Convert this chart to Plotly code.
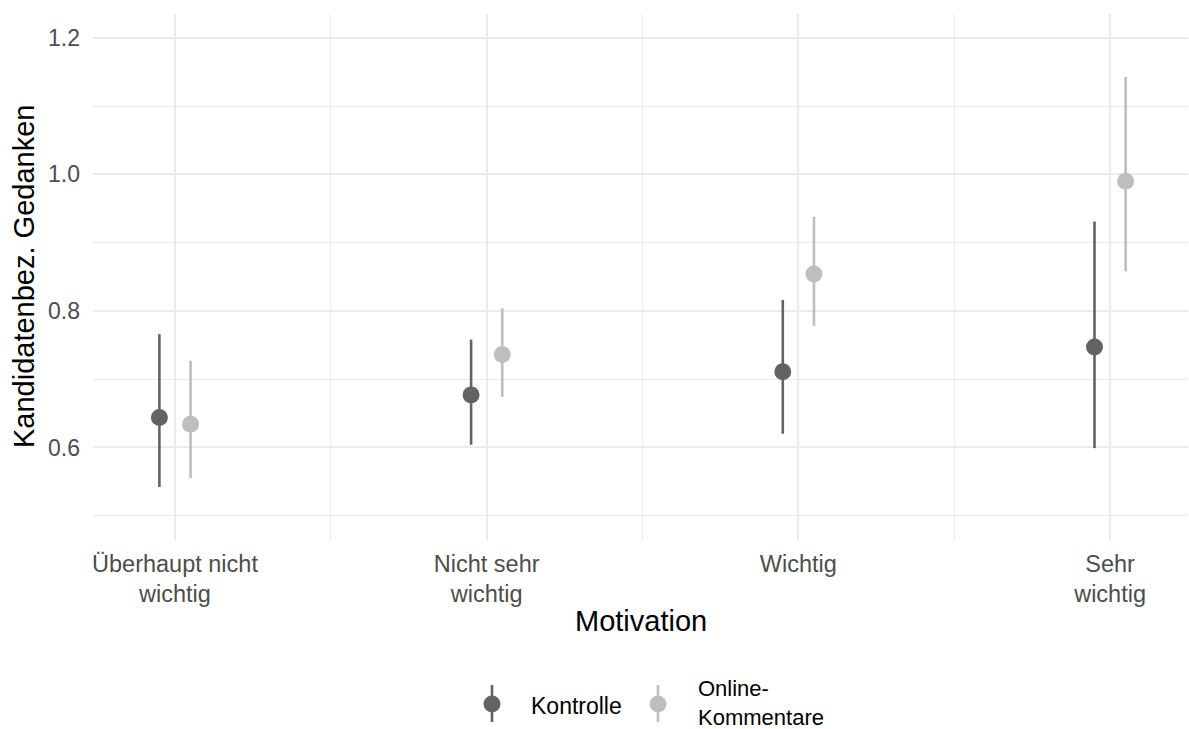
import plotly.graph_objects as go

categories = ["Überhaupt nicht<br>wichtig", "Nicht sehr<br>wichtig", "Wichtig", "Sehr<br>wichtig"]
cat_pos = [1, 2, 3, 4]
groups = ["Kontrolle", "Online-<br>Kommentare"]

kontrolle_mean = [0.644, 0.677, 0.711, 0.747]
kontrolle_low = [0.542, 0.604, 0.620, 0.599]
kontrolle_high = [0.766, 0.758, 0.816, 0.931]

online_mean = [0.634, 0.736, 0.854, 0.990]
online_low = [0.555, 0.674, 0.778, 0.858]
online_high = [0.727, 0.804, 0.938, 1.143]

dodge = 0.05
colors = ["#636363", "#BEBEBE"]
FONT = "Liberation Sans, Arial, sans-serif"

fig = go.Figure()
series = [
    (kontrolle_mean, kontrolle_low, kontrolle_high, -dodge, colors[0]),
    (online_mean, online_low, online_high, dodge, colors[1]),
]
for name, (m, lo, hi, off, col) in zip(groups, series):
    fig.add_trace(go.Scatter(
        x=[p + off for p in cat_pos], y=m, mode="markers", name=name,
        marker=dict(color=col, size=17, line=dict(width=0)),
        error_y=dict(type="data", symmetric=False,
                     array=[h - v for h, v in zip(hi, m)],
                     arrayminus=[v - l for l, v in zip(lo, m)],
                     color=col, thickness=2.6, width=0),
        showlegend=False,
    ))

grid = "#EBEBEB"
fig.update_layout(
    width=1189, height=729,
    margin=dict(l=93, r=1, t=14, b=189),
    paper_bgcolor="white", plot_bgcolor="white",
    font=dict(family=FONT, size=22, color="#4D4D4D"),
    xaxis=dict(range=[0.737, 4.25], tickvals=cat_pos, ticktext=categories,
               showgrid=True, gridcolor=grid, gridwidth=2, zeroline=False,
               showline=False, ticks="", ticklabelstandoff=7,
               tickfont=dict(size=23.5, color="#4D4D4D"),
               minor=dict(tickvals=[1.5, 2.5, 3.5], showgrid=True, gridcolor=grid, gridwidth=1.2)),
    yaxis=dict(range=[0.4644, 1.235], tickvals=[0.6, 0.8, 1.0, 1.2],
               ticktext=["0.6", "0.8", "1.0", "1.2"],
               showgrid=True, gridcolor=grid, gridwidth=2, zeroline=False,
               showline=False, ticks="", ticklabelstandoff=12,
               tickfont=dict(size=23, color="#4D4D4D"),
               minor=dict(tickvals=[0.5, 0.7, 0.9, 1.1], showgrid=True, gridcolor=grid, gridwidth=1.2)),
    showlegend=False,
)

annotations = [
    dict(text="Motivation", xref="paper", yref="paper", x=0.5, y=0, xanchor="center",
         yanchor="middle", yshift=-81, showarrow=False, font=dict(size=29, color="black", family=FONT)),
    dict(text="Kandidatenbez. Gedanken", xref="paper", yref="paper", x=0, y=0.5, xanchor="center",
         yanchor="middle", xshift=-69, textangle=-90, showarrow=False,
         font=dict(size=29, color="black", family=FONT)),
]

# manual legend (pointrange glyphs)
W, H = 1095, 526
def px(xp):
    return (xp - 93) / W
def py(yp):
    return (540 - yp) / H

shapes = []
leg_items = [(492, 530, colors[0], groups[0], 706, 23), (658, 697, colors[1], groups[1], 703, 22)]
for gx, tx, col, label, ty, fs in leg_items:
    shapes.append(dict(type="line", xref="paper", yref="paper", x0=px(gx), x1=px(gx),
                       y0=py(685), y1=py(722), line=dict(color=col, width=2.6)))
    shapes.append(dict(type="circle", xref="paper", yref="paper", xsizemode="pixel", ysizemode="pixel",
                       xanchor=px(gx), yanchor=py(704), x0=-8.5, x1=8.5, y0=-8.5, y1=8.5,
                       fillcolor=col, line=dict(width=0)))
    annotations.append(dict(text=label, xref="paper", yref="paper", x=px(tx), y=py(ty),
                            xanchor="left", yanchor="middle", align="left", showarrow=False,
                            borderpad=0, font=dict(size=fs, color="black", family=FONT)))

fig.update_layout(annotations=annotations, shapes=shapes)
fig.write_html("out.html", config={"displayModeBar": False},
               post_script="document.body.style.margin='0';document.body.style.overflow='hidden';")
